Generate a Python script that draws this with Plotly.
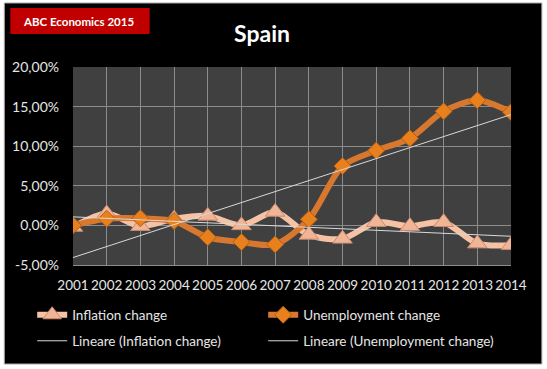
import numpy as np
import plotly.graph_objects as go

years = list(range(2001, 2015))
inflation = [-0.2, 1.5, -0.1, 0.85, 1.2, 0.0, 1.7, -1.2, -1.7, 0.4, -0.1, 0.4, -2.3, -2.5]
unemployment = [0.0, 0.85, 0.9, 0.55, -1.5, -2.1, -2.4, 0.77, 7.5, 9.45, 11.0, 14.4, 15.8, 14.3]
y_ticks = [-5, 0, 5, 10, 15, 20]
y_tick_labels = ["-5,00%", "0,00%", "5,00%", "10,00%", "15,00%", "20,00%"]

W, H = 547, 369
L, R, T, B = 71, 511, 67, 265


def px_x(p):
    return (p - L) / (R - L)


def px_y(p):
    return (B - p) / (B - T)


x = np.array(years, dtype=float)
fit_inf = np.polyval(np.polyfit(x, inflation, 1), x)
fit_une = np.polyval(np.polyfit(x, unemployment, 1), x)

font_main = "Lato, 'Open Sans', sans-serif"

fig = go.Figure()
fig.add_trace(go.Scatter(
    x=years, y=inflation, name="Inflation change", mode="lines+markers",
    line=dict(color="#F5C2A6", width=6, shape="spline", smoothing=0.8),
    marker=dict(symbol="triangle-up", size=17, color="#F0B597",
                line=dict(color="#C98A6C", width=1)),
    legend="legend",
))
fig.add_trace(go.Scatter(
    x=years, y=unemployment, name="Unemployment change", mode="lines+markers",
    line=dict(color="#D8782E", width=6, shape="spline", smoothing=0.8),
    marker=dict(symbol="diamond", size=13, color="#E8801E",
                line=dict(color="#B35E12", width=1)),
    legend="legend",
))
fig.add_trace(go.Scatter(
    x=years, y=fit_inf, name="Lineare (Inflation change)", mode="lines",
    line=dict(color="#D9D9D9", width=1), legend="legend2",
))
fig.add_trace(go.Scatter(
    x=years, y=fit_une, name="Lineare (Unemployment change)", mode="lines",
    line=dict(color="#D9D9D9", width=1), legend="legend2",
))

shapes = [
    dict(type="rect", xref="paper", yref="paper", layer="below",
         x0=px_x(2), x1=px_x(542), y0=px_y(364), y1=px_y(3),
         fillcolor="black", line=dict(color="#A6A6A6", width=1)),
    dict(type="rect", xref="paper", yref="paper", layer="below",
         x0=0, x1=1, y0=0, y1=1, fillcolor="#404040", line=dict(width=0)),
    dict(type="rect", xref="paper", yref="paper", layer="above",
         x0=px_x(8), x1=px_x(148), y0=px_y(34), y1=px_y(8),
         fillcolor="#C00000", line=dict(width=0)),
]

annotations = [
    dict(text="<b>ABC Economics 2015</b>", xref="paper", yref="paper",
         x=px_x(19), y=px_y(21), xanchor="left", yanchor="middle",
         showarrow=False, font=dict(family=font_main, size=11.5, color="white")),
    dict(text="<b>Spain</b>", xref="paper", yref="paper",
         x=px_x(261), y=px_y(33), xanchor="center", yanchor="middle",
         showarrow=False, font=dict(family=font_main, size=23, color="white")),
]

legend_common = dict(
    orientation="h", xanchor="left", yanchor="middle",
    bgcolor="rgba(0,0,0,0)", font=dict(family=font_main, size=13.5, color="#E6E6E6"),
    entrywidth=186, entrywidthmode="pixels", itemclick=False, itemdoubleclick=False,
)

fig.update_layout(
    width=W, height=H,
    margin=dict(l=L, r=W - R, t=T, b=H - B),
    paper_bgcolor="white",
    plot_bgcolor="rgba(0,0,0,0)",
    showlegend=True,
    legend=dict(x=px_x(30), y=px_y(315), **legend_common),
    legend2=dict(x=px_x(30), y=px_y(341), **legend_common),
    shapes=shapes,
    annotations=annotations,
    hovermode=False,
    xaxis=dict(
        range=[2001, 2014], tickmode="array", tickvals=years,
        ticktext=[str(y) for y in years],
        showgrid=True, gridcolor="#8C8C8C", gridwidth=1,
        showline=True, linecolor="#8C8C8C", zeroline=False,
        ticks="", ticklabelstandoff=8,
        tickfont=dict(family=font_main, size=13.5, color="#E6E6E6"),
        fixedrange=True,
    ),
    yaxis=dict(
        range=[-5, 20], tickmode="array", tickvals=y_ticks,
        ticktext=y_tick_labels,
        showgrid=True, gridcolor="#8C8C8C", gridwidth=1,
        zeroline=True, zerolinecolor="#8C8C8C", zerolinewidth=1,
        showline=False, ticks="", ticklabelstandoff=13,
        tickfont=dict(family=font_main, size=14, color="#E6E6E6"),
        fixedrange=True,
    ),
)

fig.write_html("out.html", config=dict(displayModeBar=False),
               post_script="document.body.style.margin='0px';")
